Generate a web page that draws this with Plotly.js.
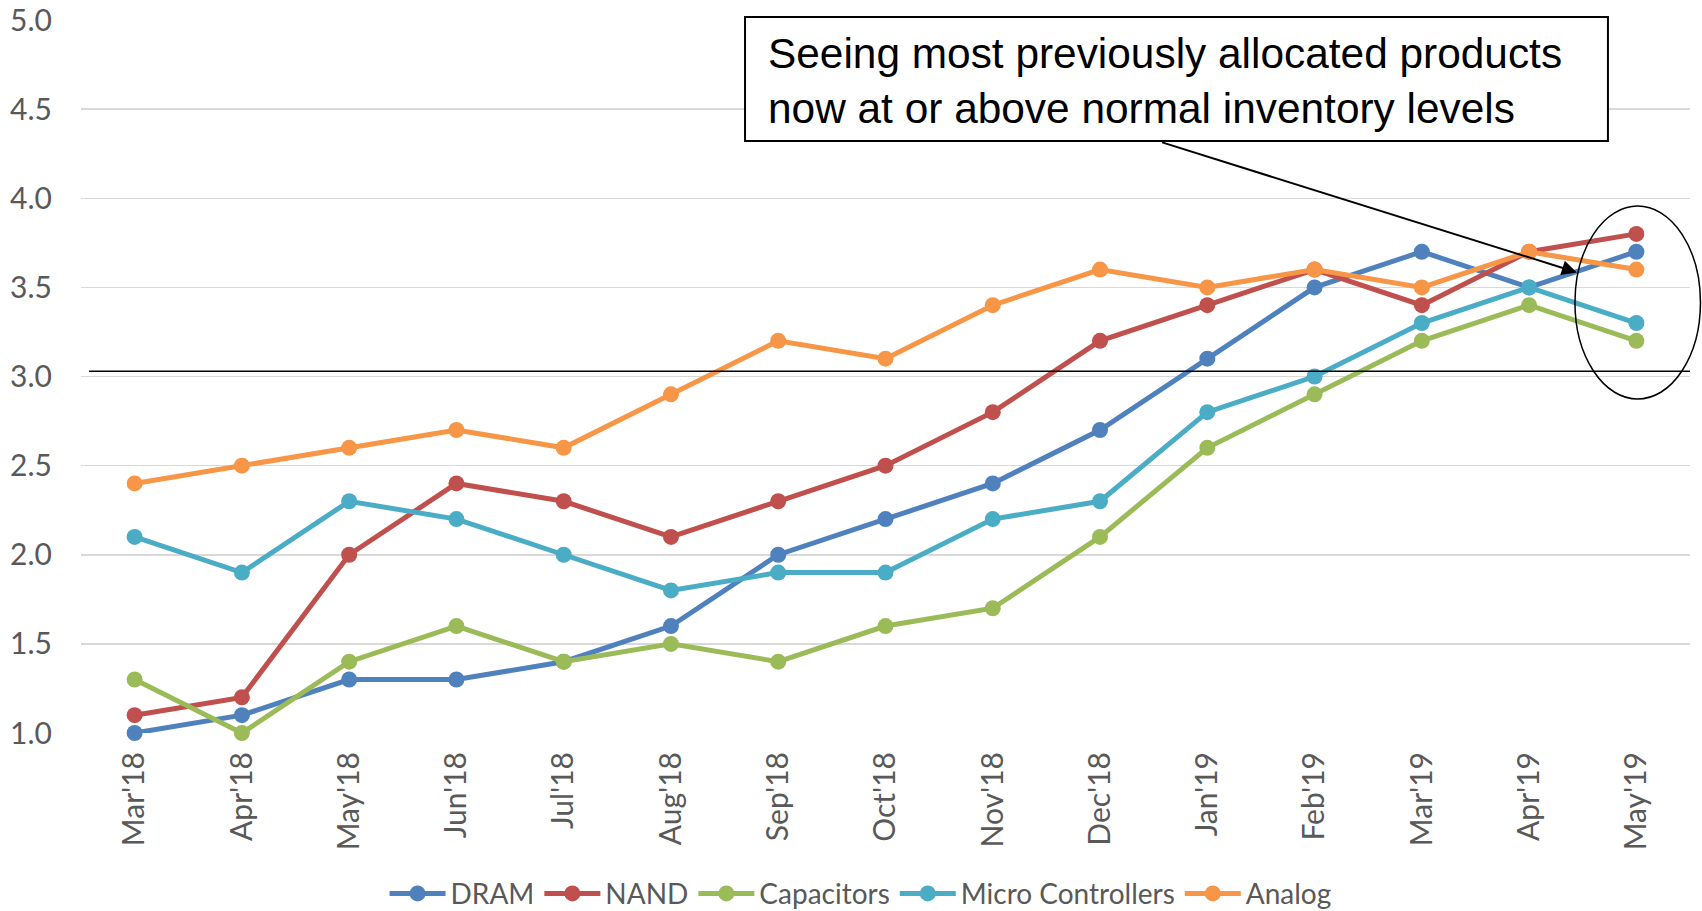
<!DOCTYPE html>
<html>
<head>
<meta charset="utf-8">
<script src="https://cdn.plot.ly/plotly-3.0.1.min.js"></script>
<style>html,body{margin:0;padding:0;background:#fff;} #chart{width:1702px;height:911px;}</style>
</head>
<body>
<div id="chart"></div>
<script>
const months = ["Mar'18","Apr'18","May'18","Jun'18","Jul'18","Aug'18","Sep'18","Oct'18","Nov'18","Dec'18","Jan'19","Feb'19","Mar'19","Apr'19","May'19"];
const dram = [1.0,1.1,1.3,1.3,1.4,1.6,2.0,2.2,2.4,2.7,3.1,3.5,3.7,3.5,3.7];
const nand = [1.1,1.2,2.0,2.4,2.3,2.1,2.3,2.5,2.8,3.2,3.4,3.6,3.4,3.7,3.8];
const capacitors = [1.3,1.0,1.4,1.6,1.4,1.5,1.4,1.6,1.7,2.1,2.6,2.9,3.2,3.4,3.2];
const microControllers = [2.1,1.9,2.3,2.2,2.0,1.8,1.9,1.9,2.2,2.3,2.8,3.0,3.3,3.5,3.3];
const analog = [2.4,2.5,2.6,2.7,2.6,2.9,3.2,3.1,3.4,3.6,3.5,3.6,3.5,3.7,3.6];
const seriesNames = ["DRAM","NAND","Capacitors","Micro Controllers","Analog"];
const seriesColors = ["#4F81BD","#C0504D","#9BBB59","#4BACC6","#F79646"];
const seriesData = [dram, nand, capacitors, microControllers, analog];
const thresholdValue = 3.03;
const noteText = "Seeing most previously allocated products<br>now at or above normal inventory levels";

const traces = seriesData.map((vals, i) => ({
  type: 'scatter', mode: 'lines+markers', cliponaxis: false,
  x: months, y: vals, name: seriesNames[i],
  line: {color: seriesColors[i], width: 5},
  marker: {color: seriesColors[i], size: 16}
}));

const layout = {
  width: 1702, height: 911,
  margin: {l: 81, r: 12, t: 20, b: 178},
  paper_bgcolor: '#ffffff', plot_bgcolor: '#ffffff',
  font: {family: 'Lato, sans-serif', color: '#595959', size: 30},
  showlegend: true,
  legend: {orientation: 'h', xref: 'paper', yref: 'container', x: 0.4845, xanchor: 'center', y: 0.019, yanchor: 'middle',
           itemwidth: 56,
           font: {family: 'Lato, sans-serif', size: 28, color: '#595959'}, traceorder: 'normal'},
  xaxis: {type: 'category', range: [-0.5, 14.5], autorange: false, automargin: false,
          tickangle: -90, showgrid: false, zeroline: false, showline: false,
          ticks: '', ticklabelstandoff: 12,
          tickfont: {family: 'Lato, sans-serif', size: 30, color: '#595959'}},
  yaxis: {range: [1, 5], autorange: false, automargin: false, dtick: 0.5, tickformat: '.1f',
          showgrid: true, gridcolor: '#D9D9D9', gridwidth: 1.5,
          zeroline: false, showline: false, ticks: '', ticklabelstandoff: 28,
          tickfont: {family: 'Lato, sans-serif', size: 30, color: '#595959'}},
  shapes: [
    {type: 'line', xref: 'paper', yref: 'y', x0: 0.005, x1: 1.0, y0: thresholdValue, y1: thresholdValue,
     line: {color: '#000000', width: 1.5}, layer: 'above'},
    {type: 'circle', xref: 'paper', yref: 'paper', x0: 0.9285, x1: 1.0065, y0: 0.4684, y1: 0.739,
     line: {color: '#000000', width: 1.5}, layer: 'above'},
    {type: 'rect', xref: 'paper', yref: 'paper', x0: 0.4127, x1: 0.949, y0: 0.8303, y1: 1.0042,
     line: {color: '#000000', width: 2}, fillcolor: '#ffffff', layer: 'above'}
  ],
  annotations: [
    {xref: 'paper', yref: 'paper', x: 0.4257, y: 0.914, xanchor: 'left', yanchor: 'middle', align: 'left',
     showarrow: false, text: noteText,
     font: {family: 'Liberation Sans, Arial, sans-serif', size: 42.4, color: '#000000'}},
    {xref: 'paper', yref: 'paper', x: 0.9297, y: 0.646, axref: 'paper', ayref: 'paper', ax: 0.671, ay: 0.829,
     text: '', showarrow: true, arrowhead: 2, arrowsize: 1.5, arrowwidth: 2, arrowcolor: '#000000'}
  ]
};

Plotly.newPlot('chart', traces, layout, {displayModeBar: false, staticPlot: true});
</script>
</body>
</html>
